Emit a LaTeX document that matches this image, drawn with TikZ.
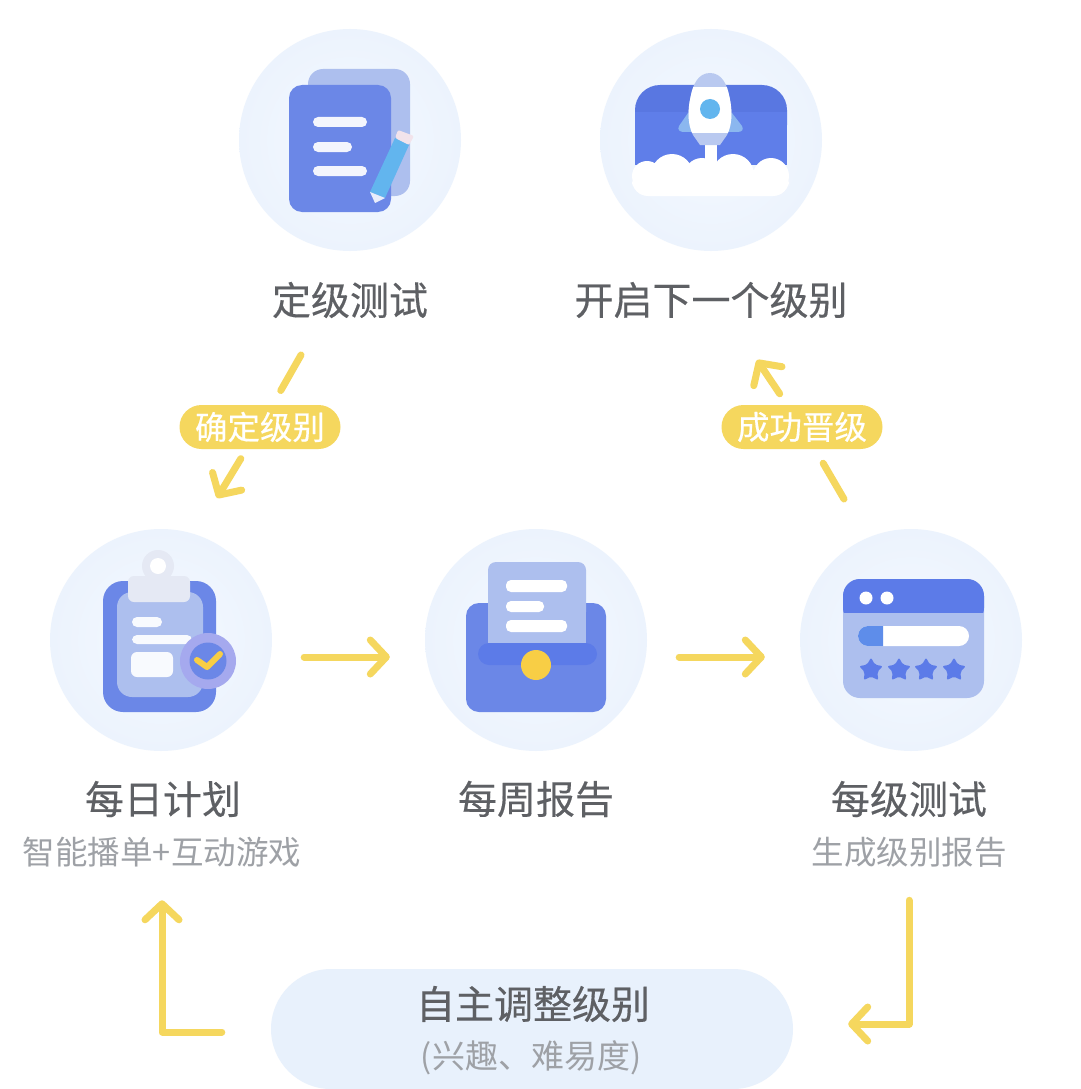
\documentclass[tikz,border=0pt]{standalone}
\usepackage{fontspec}
\setmainfont{Noto Sans CJK SC}
\newfontfamily\headfont[FakeBold=0.35]{Noto Sans CJK SC}
\usetikzlibrary{arrows.meta,shapes.geometric}
\definecolor{haloblue}{HTML}{ECF3FD}
\definecolor{haloin}{HTML}{F4F9FF}
\definecolor{capsuleblue}{HTML}{E8F1FC}
\definecolor{iconblue}{HTML}{6B87E7}
\definecolor{deepblue}{HTML}{5C7BE8}
\definecolor{paleblue}{HTML}{ADBFEE}
\definecolor{skyblue}{HTML}{62B5EE}
\definecolor{finblue}{HTML}{8BB7EF}
\definecolor{clipgray}{HTML}{E5E9F4}
\definecolor{badgeviolet}{HTML}{A5A9EE}
\definecolor{flowyellow}{HTML}{F5D75E}
\definecolor{coinyellow}{HTML}{F8CE45}
\definecolor{titlegray}{HTML}{5E6064}
\definecolor{subgray}{HTML}{9EA1A6}
\def\rocketpath{(710,73) .. controls (722,73) and (727,85) .. (729,95)
  .. controls (733,112) and (732,125) .. (727,135) -- (720,145) -- (700,145) -- (693,135)
  .. controls (688,125) and (687,112) .. (691,95) .. controls (693,85) and (698,73) .. (710,73) -- cycle}
\tikzset{
  stepdisc/.style={circle,inner color=haloin,outer color=haloblue,minimum size=222pt,inner sep=0pt},
  titletext/.style={text=titlegray,inner sep=0pt,font=\headfont\fontsize{39}{41}\selectfont},
  subtext/.style={text=subgray,inner sep=0pt,font=\fontsize{32.5}{34}\selectfont},
  flowline/.style={draw=flowyellow,line width=7pt,line cap=round,line join=round},
  flowarrow/.style={flowline,-{Straight Barb[length=16pt,width=34pt,round]}},
  tagpill/.style={fill=flowyellow,rounded corners=22pt,minimum width=161pt,minimum height=44pt,
    inner sep=0pt,text=white,font=\headfont\fontsize{32.5}{34}\selectfont},
  whitebar/.style={fill=#1,rounded corners=5pt},
  whitebar/.default=white,
  starmark/.style={star,star points=5,star point ratio=1.9,fill=deepblue,minimum size=25pt,
    inner sep=0pt,rounded corners=2pt},
}
\begin{document}
\begin{tikzpicture}[x=1pt,y=-1pt]
\useasboundingbox (0,0) rectangle (1080,1089);
\fill[white] (0,0) rectangle (1080,1089);
% discs
\node[stepdisc] (placedisc) at (350,140) {};
\node[stepdisc] (nextdisc) at (711,140) {};
\node[stepdisc] (dailydisc) at (161,640) {};
\node[stepdisc] (weeklydisc) at (536,640) {};
\node[stepdisc] (leveldisc) at (911,640) {};
% document
\fill[paleblue,rounded corners=15pt] (308,69) rectangle (410,196);
\fill[iconblue,rounded corners=13pt] (289,85) rectangle (391,212);
\fill[whitebar=white!92!iconblue] (313,117) rectangle (367,127);
\fill[whitebar=white!92!iconblue] (313,142) rectangle (352,152);
\fill[whitebar=white!92!iconblue] (313,166) rectangle (367,176);
\fill[skyblue] (370,192) -- (395,138) -- (409,145) -- (385,198) -- cycle;
\fill[white!85!iconblue] (370,192) -- (385,198) -- (375,203) -- cycle;
\fill[pink!30!haloblue,rounded corners=2pt] (395,138) -- (398,130) -- (414,136) -- (409,145) -- cycle;
% rocket
\fill[deepblue!97!black,rounded corners=25pt] (635,85) rectangle (787,150);
\fill[deepblue!98!white] (635,112) rectangle (787,165);
\fill[white] (647,176) circle (15pt);
\fill[white] (672,175) circle (21pt);
\fill[white] (702,176) circle (18pt);
\fill[white] (733,175) circle (21pt);
\fill[white] (771,176) circle (18pt);
\fill[white,rounded corners=16pt] (632,170) rectangle (789,196);
\fill[white] (705,140) rectangle (717,165);
\fill[finblue] (688,113) -- (679,126) .. controls (677,130) and (680,132) .. (684,132) -- (737,132)
  .. controls (742,132) and (744,130) .. (742,126) -- (732,113) -- cycle;
\fill[paleblue!85!white] \rocketpath;
\begin{scope}
\clip (680,88) rectangle (740,133);
\fill[white] \rocketpath;
\end{scope}
\fill[skyblue] (710,109) circle (10pt);
% clipboard
\fill[iconblue,rounded corners=20pt] (103,581) rectangle (216,712);
\fill[paleblue,rounded corners=15pt] (117,592) rectangle (203,697);
\fill[clipgray] (158,566) circle (16pt);
\fill[white] (158,566) circle (8pt);
\fill[clipgray,rounded corners=6pt] (128,576) rectangle (190,602);
\fill[whitebar=white!92!paleblue] (132,617) rectangle (162,627);
\fill[whitebar=white!92!paleblue] (132,635) rectangle (192,644);
\fill[white!92!paleblue,rounded corners=6pt] (131,652) rectangle (173,677);
\fill[badgeviolet] (208,661) circle (28pt);
\fill[iconblue] (208,661) circle (18.5pt);
\draw[coinyellow,line width=6pt,line join=round,line cap=round] (197,660) -- (207,667) -- (220,654);
% inbox
\fill[iconblue,rounded corners=13pt] (466,603) rectangle (606,712);
\fill[deepblue,rounded corners=11pt] (478,643) rectangle (597,665);
\fill[paleblue,rounded corners=8pt] (488,562) rectangle (586,620);
\fill[paleblue] (488,600) rectangle (586,643);
\fill[whitebar] (506,580) rectangle (567,592);
\fill[whitebar] (506,601) rectangle (544,612);
\fill[whitebar] (506,620) rectangle (567,632);
\fill[coinyellow] (536,665) circle (15pt);
% window
\fill[paleblue,rounded corners=17pt] (843,579) rectangle (984,698);
\fill[deepblue,rounded corners=17pt] (843,579) rectangle (984,625);
\fill[paleblue] (843,613) rectangle (984,630);
\fill[white] (866,598) circle (6.5pt);
\fill[white] (887,598) circle (6.5pt);
\fill[white,rounded corners=10pt] (858,626) rectangle (969,646);
\begin{scope}
\clip (850,620) rectangle (883,650);
\fill[deepblue!70!skyblue,rounded corners=10pt] (858,626) rectangle (969,646);
\end{scope}
\node[starmark] (starone) at (871,670) {};
\node[starmark] (startwo) at (899,670) {};
\node[starmark] (starthree) at (926,670) {};
\node[starmark] (starfour) at (954,670) {};
% labels
\node[titletext] (placetitle) at (350,300) {定级测试};
\node[titletext] (nexttitle) at (711,300) {开启下一个级别};
\node[titletext] (dailytitle) at (163,799) {每日计划};
\node[titletext] (weeklytitle) at (536,799) {每周报告};
\node[titletext] (leveltitle) at (909,799) {每级测试};
\node[subtext] (dailysub) at (162,852) {智能播单+互动游戏};
\node[subtext] (levelsub) at (909,852) {生成级别报告};
% capsule
\node[fill=capsuleblue,rounded corners=60pt,minimum width=522pt,minimum height=120pt,inner sep=0pt] (capsule) at (532,1029) {};
\node[titletext] (capsuletitle) at (533,1004) {自主调整级别};
\node[subtext,font=\fontsize{33}{35}\selectfont] (capsulesub) at (531,1058) {(兴趣、难易度)};
% flow
\node[tagpill] (settag) at (260,427) {确定级别};
\node[tagpill] (uptag) at (802,427) {成功晋级};
\coordinate (setstart) at (301,355);
\coordinate (setend) at (217,498);
\coordinate (upstart) at (844,499);
\coordinate (upend) at (757,360);
\draw[flowline,shorten >=42pt] (setstart) -- (settag.center);
\draw[flowarrow,shorten <=37pt] (settag.center) -- (setend);
\draw[flowline,shorten >=42pt] (upstart) -- (uptag.center);
\draw[flowarrow,shorten <=40pt] (uptag.center) -- (upend);
\draw[flowarrow,shorten <=32pt,shorten >=35pt] ([yshift=-17pt]dailydisc.east) -- ([yshift=-17pt]weeklydisc.west);
\draw[flowarrow,shorten <=32pt,shorten >=35pt] ([yshift=-17pt]weeklydisc.east) -- ([yshift=-17pt]leveldisc.west);
\draw[flowarrow,shorten <=33pt,shorten >=55pt] (levelsub.south) |- ([yshift=5pt]capsule.east);
\draw[flowarrow,shorten <=49pt,shorten >=33pt] ([yshift=-3pt]capsule.west) -| (dailysub.south);
\end{tikzpicture}
\end{document}
